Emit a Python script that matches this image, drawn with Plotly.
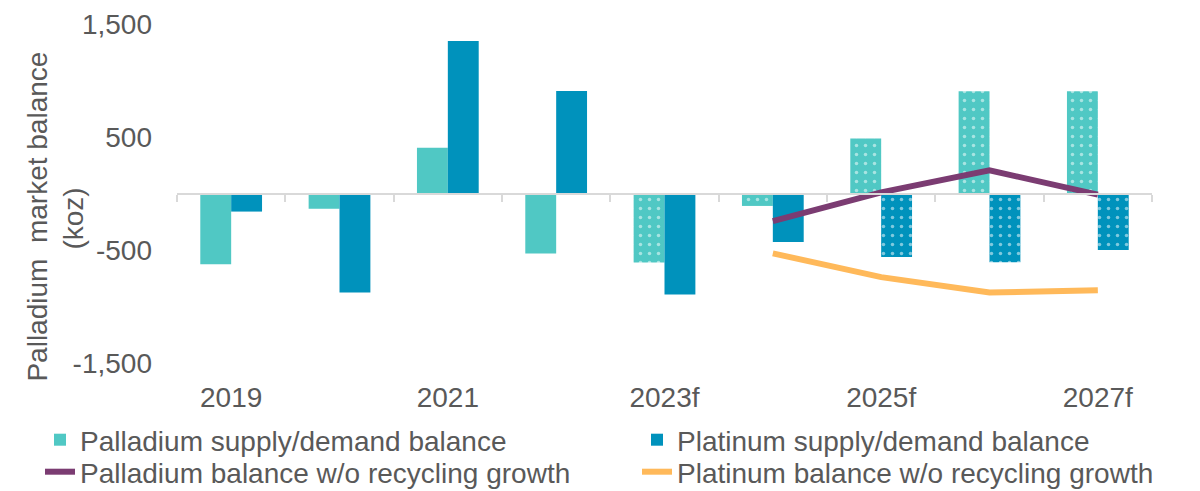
import plotly.graph_objects as go

categories = ["2019", "2020", "2021", "2022", "2023f", "2024f", "2025f", "2026f", "2027f"]
tick_labels = ["2019", "", "2021", "", "2023f", "", "2025f", "", "2027f"]
palladium_balance = [-625, -135, 405, -530, -610, -110, 487, 905, 905]
platinum_balance = [-160, -875, 1350, 908, -894, -430, -562, -608, -500]
palladium_forecast = [False, False, False, False, True, True, True, True, True]
platinum_forecast = [False, False, False, False, False, False, True, True, True]
line_categories = ["2024f", "2025f", "2026f", "2027f"]
palladium_no_recycling = [-245, 10, 205, -10]
platinum_no_recycling = [-530, -740, -876, -856]

TEAL = "#50C8C4"
BLUE = "#0092BC"
PURPLE = "#7B3C72"
ORANGE = "#FFB95A"
GREY = "#595959"
AXIS = "#D9D9D9"
FONT = "Liberation Sans, Arial, sans-serif"

fig = go.Figure()
fig.add_trace(go.Bar(
    x=categories, y=palladium_balance, name="Palladium supply/demand balance",
    legend="legend",
    marker=dict(color=TEAL, line=dict(width=0),
                pattern=dict(shape=["." if f else "" for f in palladium_forecast],
                             fgcolor="white", bgcolor=TEAL, size=9, solidity=0.12)),
))
fig.add_trace(go.Bar(
    x=categories, y=platinum_balance, name="Platinum supply/demand balance",
    legend="legend2",
    marker=dict(color=BLUE, line=dict(width=0),
                pattern=dict(shape=["." if f else "" for f in platinum_forecast],
                             fgcolor="white", bgcolor=BLUE, size=9, solidity=0.12)),
))
fig.add_trace(go.Scatter(
    x=line_categories, y=palladium_no_recycling, mode="lines",
    name="Palladium balance w/o recycling growth", legend="legend3",
    line=dict(color=PURPLE, width=6),
))
fig.add_trace(go.Scatter(
    x=line_categories, y=platinum_no_recycling, mode="lines",
    name="Platinum balance w/o recycling growth", legend="legend4",
    line=dict(color=ORANGE, width=6),
))
# invisible helper on the zero-line axis so its category ticks are drawn
fig.add_trace(go.Scatter(
    x=categories, y=palladium_balance, xaxis="x2", mode="markers",
    marker=dict(opacity=0), showlegend=False, hoverinfo="skip",
))

legend_common = dict(
    orientation="v", xref="container", yref="container",
    xanchor="left", yanchor="middle", font=dict(size=28, color=GREY),
    tracegroupgap=0, bgcolor="rgba(0,0,0,0)",
)
H = 491.0
row1 = 1 - 440 / H
row2 = 1 - 472 / H
col1 = 40 / 1200.0
col2 = 637 / 1200.0

fig.update_layout(
    width=1200, height=491,
    margin=dict(l=177, r=48, t=24, b=128, autoexpand=False),
    paper_bgcolor="white", plot_bgcolor="white",
    barmode="group", bargap=0.43, bargroupgap=0,
    font=dict(family=FONT, color=GREY, size=27),
    showlegend=True,
    legend=dict(x=col1, y=row1, **legend_common),
    legend2=dict(x=col2, y=row1, **legend_common),
    legend3=dict(x=col1, y=row2, **legend_common),
    legend4=dict(x=col2, y=row2, **legend_common),
    xaxis=dict(
        type="category", categoryorder="array", categoryarray=categories,
        range=[-0.5, 8.5],
        tickmode="array", tickvals=categories, ticktext=tick_labels,
        ticks="", showline=False, showgrid=False, zeroline=False,
        tickfont=dict(size=28, color=GREY), ticklabelstandoff=15,
    ),
    xaxis2=dict(
        type="category", categoryorder="array", categoryarray=categories,
        overlaying="x", anchor="free", position=0.5, side="bottom",
        range=[-0.5, 8.5], tickson="boundaries",
        showticklabels=False, ticks="outside", ticklen=7, tickwidth=2,
        tickcolor=AXIS, showline=True, linecolor=AXIS, linewidth=2,
        showgrid=False, zeroline=False,
    ),
    yaxis=dict(
        range=[-1500, 1500], tickmode="array",
        tickvals=[-1500, -500, 500, 1500],
        ticktext=["-1,500", "-500", "500", "1,500"],
        showgrid=False, zeroline=False, showline=False, ticks="",
        tickfont=dict(size=28, color=GREY), ticklabelstandoff=24,
    ),
    annotations=[
        dict(text="Palladium\u00a0 market balance",
             xref="paper", yref="paper", x=(37 - 177) / 975.5, y=(362.5 - 216) / 339,
             xanchor="center", yanchor="middle", textangle=-90, showarrow=False,
             font=dict(size=28, color=GREY)),
        dict(text="(koz)",
             xref="paper", yref="paper", x=(73 - 177) / 975.5, y=(362.5 - 218) / 339,
             xanchor="center", yanchor="middle", textangle=-90, showarrow=False,
             font=dict(size=28, color=GREY)),
    ],
)

fig.write_html("out.html", config={"displayModeBar": False},
               post_script="document.body.style.margin='0';")
